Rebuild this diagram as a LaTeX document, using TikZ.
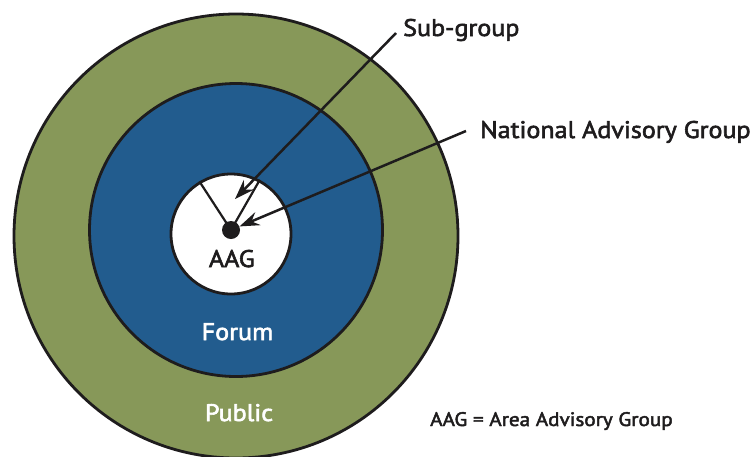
\documentclass[tikz,border=0pt]{standalone}
\usepackage{fontspec}
\setmainfont[FakeStretch=1.085, FakeBold=2.4]{PT Sans}
\usetikzlibrary{arrows.meta}
\definecolor{pubgreen}{RGB}{135,152,89}
\definecolor{forblue}{RGB}{34,92,142}
\definecolor{ink}{RGB}{30,28,29}
\begin{document}
\begin{tikzpicture}[x=1pt,y=-1pt,
  ring/.style={circle, draw=ink, line width=2.8pt, inner sep=0pt},
  lbl/.style={font=\fontsize{24}{28}\selectfont, text=ink, inner sep=0pt},
  wlbl/.style={font=\fontsize{24}{28}\selectfont, text=white, inner sep=0pt},
  note/.style={font=\fontsize{19.5}{23}\selectfont, text=ink, inner sep=0pt},
  pointer/.style={draw=ink, line width=2.5pt, -{Stealth[length=20pt,width=14pt,inset=7pt]}},
  spoke/.style={draw=ink, line width=2.2pt}]
\useasboundingbox (0,0) rectangle (751,456);
\fill[white] (0,0) rectangle (751,456);
\node[ring, fill=pubgreen, minimum size=444pt] (public) at (236,236) {};
\node[ring, fill=forblue, minimum size=293pt] (forum) at (236,230) {};
\node[ring, fill=white, minimum size=120pt] (aag) at (231,234) {};
\node[circle, fill=ink, inner sep=0pt, minimum size=18pt] (dot) at (231,230) {};
\draw[spoke] (dot.center) -- (aag.121);
\draw[spoke] (dot.center) -- (aag.62);
\node[lbl, anchor=base] (aaglbl) at (231.8,267) {AAG};
\node[wlbl, anchor=base] (forumlbl) at (237.5,340) {Forum};
\node[wlbl, anchor=base] (publbl) at (239,421) {Public};
\node[lbl, anchor=base west] (sub) at (403,36) {Sub-group};
\node[lbl, anchor=base west] (nag) at (480,138) {National Advisory Group};
\node[note, anchor=base west] (key) at (430,426) {AAG = Area Advisory Group};
\coordinate (substart) at (396,33);
\coordinate (subtip) at (235,199);
\coordinate (nagstart) at (466,131);
\draw[pointer] (substart) -- (subtip);
\draw[pointer] (nagstart) -- (dot);
\end{tikzpicture}
\end{document}
